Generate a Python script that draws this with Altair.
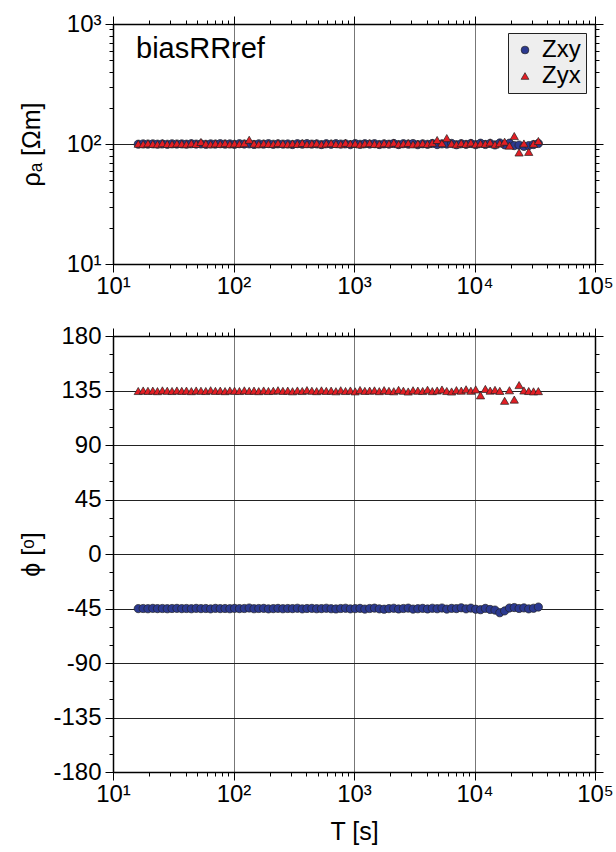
import altair as alt
import pandas as pd

FONT = "Liberation Sans"

periods = [
    16.2, 17.8, 19.5, 21.4, 23.4, 25.7, 28.2, 30.9, 33.9, 37.2,
    40.7, 44.7, 49.0, 53.7, 58.9, 64.6, 70.8, 77.6, 85.1, 93.3,
    102, 112, 123, 135, 148, 162, 178, 195, 214, 234,
    257, 282, 309, 339, 372, 407, 447, 490, 537, 589,
    646, 708, 776, 851, 933, 1023, 1122, 1230, 1349, 1479,
    1622, 1778, 1950, 2138, 2344, 2570, 2818, 3090, 3388, 3715,
    4074, 4467, 4898, 5370, 5888, 6457, 7079, 7762, 8511, 9333,
    10233, 11220, 12303, 13490, 14791, 16218, 17783, 19498, 21380, 23442,
    25704, 28184, 30903, 33884,
]

rho_xy = [
    99.6, 100.2, 99.8, 100.3, 99.7, 100.1, 99.5, 100.4, 99.9, 100.2,
    99.6, 100.5, 99.8, 100.1, 99.4, 100.3, 99.9, 100.6, 99.7, 100.2,
    99.3, 100.5, 99.9, 100.2, 99.1, 100.4, 99.7, 100.7, 99.5, 100.3,
    99.8, 100.1, 99.0, 100.6, 99.6, 100.8, 99.8, 100.2, 98.9, 100.5,
    99.5, 100.7, 99.9, 100.3, 98.8, 100.9, 99.4, 100.5, 99.8, 100.6,
    99.0, 100.3, 99.6, 101.0, 98.9, 100.6, 99.7, 100.9, 98.7, 100.4,
    99.4, 101.0, 98.9, 100.2, 99.8, 101.1, 98.6, 100.6, 99.2, 101.0,
    98.7, 101.5, 99.1, 101.2, 98.2, 102.0, 98.5, 101.6, 97.0, 98.0,
    95.5, 97.0, 99.0, 101.0,
]

rho_yx = [
    100.5, 99.8, 101.2, 100.3, 99.6, 101.5, 100.1, 99.9, 101.0, 100.4,
    99.7, 101.3, 100.2, 104.0, 100.6, 99.5, 101.1, 100.0, 101.6, 99.8,
    100.9, 100.3, 101.4, 108.5, 100.7, 99.6, 101.2, 100.4, 99.9, 101.8,
    100.5, 99.7, 101.0, 100.2, 102.0, 99.8, 100.6, 101.3, 99.5, 100.8,
    101.5, 100.1, 99.6, 102.2, 100.4, 101.0, 99.3, 100.9, 101.7, 100.2,
    99.8, 101.4, 100.6, 102.5, 99.7, 100.8, 101.9, 99.4, 100.7, 101.2,
    100.0, 102.4, 108.0, 101.6, 112.0, 100.8, 99.2, 101.7, 100.3, 102.8,
    99.6, 101.0, 100.4, 103.0, 99.1, 101.5, 104.5, 97.0, 116.5, 85.0,
    101.0, 86.0, 100.5, 106.0,
]

phi_xy = [
    -45.1, -45.0, -45.2, -44.9, -45.1, -45.0, -45.2, -45.0, -44.9, -45.1,
    -45.0, -45.2, -44.9, -45.1, -45.0, -45.3, -44.9, -45.1, -45.0, -45.2,
    -44.9, -45.1, -45.0, -44.6, -45.2, -45.0, -44.9, -45.3, -45.1, -44.9,
    -45.2, -45.0, -45.1, -44.8, -45.3, -45.0, -44.9, -45.2, -45.1, -44.8,
    -45.2, -45.4, -45.0, -44.8, -45.3, -45.1, -44.9, -45.5, -45.0, -44.7,
    -45.3, -45.6, -45.1, -44.8, -45.4, -45.0, -44.7, -45.5, -45.2, -44.9,
    -45.4, -44.8, -45.2, -44.6, -45.5, -44.9, -45.1, -44.4, -45.3, -44.7,
    -45.6, -46.0, -44.9, -45.8, -46.3, -48.5, -47.0, -44.6, -44.2, -45.0,
    -44.5, -45.3, -44.8, -43.8,
]

phi_yx = [
    134.6, 135.0, 134.7, 134.9, 134.5, 135.1, 134.8, 134.6, 135.0, 134.7,
    134.9, 134.5, 135.0, 134.8, 134.6, 135.2, 134.7, 134.9, 134.5, 135.0,
    134.8, 134.6, 135.1, 134.7, 134.9, 134.5, 135.0, 134.6, 134.8, 135.2,
    134.7, 134.9, 134.4, 135.0, 134.6, 135.3, 134.8, 134.5, 135.1, 134.7,
    134.9, 134.4, 135.2, 134.6, 135.0, 134.3, 135.4, 134.7, 134.9, 135.1,
    134.5, 135.3, 134.7, 134.4, 135.5, 134.8, 134.2, 135.2, 134.9, 134.6,
    135.6, 134.5, 135.0, 135.8, 134.6, 134.2, 135.3, 134.9, 136.0, 134.8,
    135.9, 131.0, 136.3, 134.9, 135.5, 134.7, 126.5, 135.2, 127.5, 139.5,
    135.0, 134.6, 134.3, 134.5,
]

components = ["Zxy", "Zyx"]
colors = ["#2b3990", "#e31e24"]
shapes = ["circle", "triangle-up"]

decades_x = [10, 100, 1000, 10000, 100000]
decades_rho = [10, 100, 1000]
decade_labels = {10: "10¹", 100: "10²", 1000: "10³", 10000: "10⁴", 100000: "10⁵"}
phi_minor_step = 15

x_ticks = [d * m for d in decades_x[:-1] for m in range(1, 10)] + [decades_x[-1]]
rho_ticks = [d * m for d in decades_rho[:-1] for m in range(1, 10)] + [decades_rho[-1]]
phi_ticks = list(range(-180, 181, phi_minor_step))

df = pd.DataFrame({
    "period": periods + periods,
    "rho": rho_xy + rho_yx,
    "phi": phi_xy + phi_yx,
    "comp": ["Zxy"] * len(periods) + ["Zyx"] * len(periods),
})

DEC_TEST = "abs(log(datum.value)/LN10 - round(log(datum.value)/LN10)) < 0.001"
PHI_TEST = "datum.value % 45 == 0"

LABEL_FS = 24
TITLE_FS = 25


def label_expr(values):
    parts = " : ".join(f"datum.value == {v} ? '{decade_labels[v]}'" for v in values)
    return parts + " : ''"


def tick_size(test):
    return {"condition": {"test": test, "value": 8}, "value": 4}


def grid_op(test):
    return {"condition": {"test": test, "value": 1}, "value": 0}


common = dict(
    labelFont=FONT, labelFontSize=LABEL_FS, labelColor="black", labelFlush=False,
    labelOverlap=False, domainColor="black", domainWidth=1.5, tickColor="black",
    tickWidth=1, titleFont=FONT, titleFontSize=TITLE_FS, titleFontWeight="normal",
    titleColor="black",
)

W = 482
H_TOP = 240
H_BOT = 436

xscale = alt.Scale(type="log", domain=[10, 100000], nice=False)
rhoscale = alt.Scale(type="log", domain=[10, 1000], nice=False)
phiscale = alt.Scale(domain=[-180, 180], nice=False, zero=False)
cscale = alt.Scale(domain=components, range=colors)
sscale = alt.Scale(domain=components, range=shapes)


def x_axis_main(title):
    return alt.Axis(
        values=x_ticks, labelExpr=label_expr(decades_x), tickSize=tick_size(DEC_TEST),
        grid=True, gridColor="#777777", gridWidth=1, gridOpacity=grid_op(DEC_TEST),
        labelPadding=2, title=title, titleY=59, titleBaseline="middle", **common)


def x_axis_top():
    return alt.Axis(orient="top", values=x_ticks, labels=False, tickSize=tick_size(DEC_TEST),
                    grid=False, title=None, domainColor="black", domainWidth=1.5,
                    tickColor="black", tickWidth=1)


def make_legend():
    return alt.Legend(
        orient="top-right", title=None, fillColor="#eeeeee", strokeColor="#222222",
        padding=5, offset=9, labelFont=FONT, labelFontSize=LABEL_FS, labelColor="black",
        symbolSize=60, symbolStrokeColor="#222222", symbolStrokeWidth=0.7,
        rowPadding=2, labelOffset=5)


base = alt.Chart(df)
MARK = dict(filled=True, opacity=1, stroke="#222222", strokeWidth=0.7, size=68)

# ---------------- top panel ----------------
top_pts = base.mark_point(**MARK).encode(
    x=alt.X("period:Q", scale=xscale, axis=x_axis_main(None)),
    y=alt.Y("rho:Q", scale=rhoscale, axis=alt.Axis(
        values=rho_ticks, labelExpr=label_expr(decades_rho), tickSize=tick_size(DEC_TEST),
        grid=True, gridColor="#222222", gridWidth=1, gridOpacity=grid_op(DEC_TEST),
        labelPadding=4, title="ρₐ [Ωm]", titleX=-82, titleY=H_TOP / 2,
        titleBaseline="middle", **common)),
    color=alt.Color("comp:N", scale=cscale, legend=make_legend()),
    shape=alt.Shape("comp:N", scale=sscale, legend=make_legend()),
    order=alt.Order("comp:N"),
)

top_frame = base.mark_point(opacity=0).encode(
    x=alt.X("period:Q", scale=xscale, axis=x_axis_top()),
    y=alt.Y("rho:Q", scale=rhoscale, axis=alt.Axis(
        orient="right", values=rho_ticks, labels=False, tickSize=tick_size(DEC_TEST),
        grid=False, title=None, domainColor="black", domainWidth=1.5,
        tickColor="black", tickWidth=1)),
)

label_df = pd.DataFrame({"t": ["biasRRref"]})
top_label = alt.Chart(label_df).mark_text(
    align="left", baseline="middle", font=FONT, fontSize=29, color="black"
).encode(x=alt.value(23), y=alt.value(25), text="t:N")

top = alt.layer(top_pts, top_frame, top_label).resolve_axis(
    x="independent", y="independent").properties(width=W, height=H_TOP)

# ---------------- bottom panel ----------------
bot_pts = base.mark_point(**MARK).encode(
    x=alt.X("period:Q", scale=xscale, axis=x_axis_main("T [s]")),
    y=alt.Y("phi:Q", scale=phiscale, axis=alt.Axis(
        values=phi_ticks, labelExpr="datum.value % 45 == 0 ? datum.value : ''",
        tickSize=tick_size(PHI_TEST), grid=True, gridColor="#222222", gridWidth=1,
        gridOpacity=grid_op(PHI_TEST), labelPadding=4, title="ϕ [ᵒ]", titleX=-82,
        titleY=H_BOT / 2, titleBaseline="middle", **common)),
    color=alt.Color("comp:N", scale=cscale, legend=None),
    shape=alt.Shape("comp:N", scale=sscale, legend=None),
    order=alt.Order("comp:N"),
)

bot_frame = base.mark_point(opacity=0).encode(
    x=alt.X("period:Q", scale=xscale, axis=x_axis_top()),
    y=alt.Y("phi:Q", scale=phiscale, axis=alt.Axis(
        orient="right", values=phi_ticks, labels=False, tickSize=tick_size(PHI_TEST),
        grid=False, title=None, domainColor="black", domainWidth=1.5,
        tickColor="black", tickWidth=1)),
)

bottom = alt.layer(bot_pts, bot_frame).resolve_axis(
    x="independent", y="independent").properties(width=W, height=H_BOT)

chart = alt.vconcat(top, bottom, spacing=24).resolve_legend(
    color="independent", shape="independent"
).properties(
    padding={"left": 18, "top": 11, "right": 0, "bottom": 0}
).configure_view(stroke=None).configure(background="white")

chart.save("out.html", embed_options={"renderer": "svg", "actions": False})
